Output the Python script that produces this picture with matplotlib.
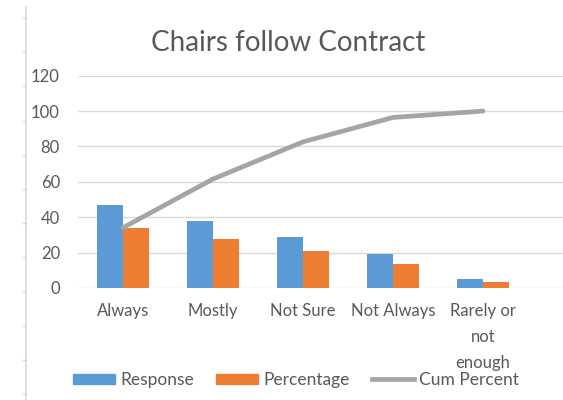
import numpy as np
import matplotlib
matplotlib.use("Agg")
import matplotlib.pyplot as plt
from matplotlib.lines import Line2D
from matplotlib.patches import Patch

# data
categories = ["Always", "Mostly", "Not Sure", "Not Always", "Rarely or\nnot\nenough"]
response = [47, 38, 29, 19, 5]
percentage = [34.1, 27.5, 21.0, 13.8, 3.6]
cum_percent = [34.1, 61.6, 82.6, 96.4, 100]

blue = "#5B9BD5"
orange = "#ED7D31"
grey = "#A5A5A5"
txt = "#595959"

plt.rcParams["font.family"] = ["Lato", "DejaVu Sans"]

W, H = 563, 400
fig = plt.figure(figsize=(W / 100, H / 100), dpi=100)
ax = fig.add_axes([78 / W, 1 - 288 / H, (W - 78) / W, (288 - 75.7) / H])

x = np.arange(len(categories))
bw = 0.29
ax.bar(x - bw / 2, response, bw, color=blue, zorder=2)
ax.bar(x + bw / 2, percentage, bw, color=orange, zorder=2)
ax.plot(x, cum_percent, color=grey, lw=3.4, solid_capstyle="round", zorder=3)

ax.set_ylim(0, 120)
ax.set_xlim(-0.5, -0.5 + (W - 78) / 90)
ax.set_yticks(range(0, 121, 20))
ax.set_xticks(x)
ax.set_xticklabels(categories, linespacing=1.75)
ax.grid(axis="y", color="#D9D9D9", lw=1, zorder=0)
for s in ax.spines.values():
    s.set_visible(False)
ax.tick_params(axis="both", length=0, labelsize=12, colors=txt)
ax.tick_params(axis="x", pad=11)
ax.tick_params(axis="y", pad=13)

fig.text(288 / W, 1 - 43 / H, "Chairs follow Contract", ha="center", va="center",
         fontsize=20, color=txt)

handles = [Patch(color=blue), Patch(color=orange), Line2D([], [], color=grey, lw=3.4)]
fig.legend(handles, ["Response", "Percentage", "Cum Percent"], loc="center left",
           bbox_to_anchor=(73 / W, 1 - 380 / H), ncol=3, frameon=False,
           borderaxespad=0, borderpad=0, handlelength=2.4, handleheight=0.5,
           handletextpad=0.3, columnspacing=1.3, fontsize=12.5, labelcolor=txt)

# spreadsheet border on the left edge
fig.add_artist(Line2D([26 / W, 26 / W], [0, 1 - 7 / H], color="#D9D9D9", lw=1.2))
for ty in np.arange(18, 400, 34.2):
    fig.add_artist(Line2D([23 / W, 26 / W], [1 - ty / H] * 2, color="#D9D9D9", lw=1))

fig.savefig("out.png", dpi=100)
